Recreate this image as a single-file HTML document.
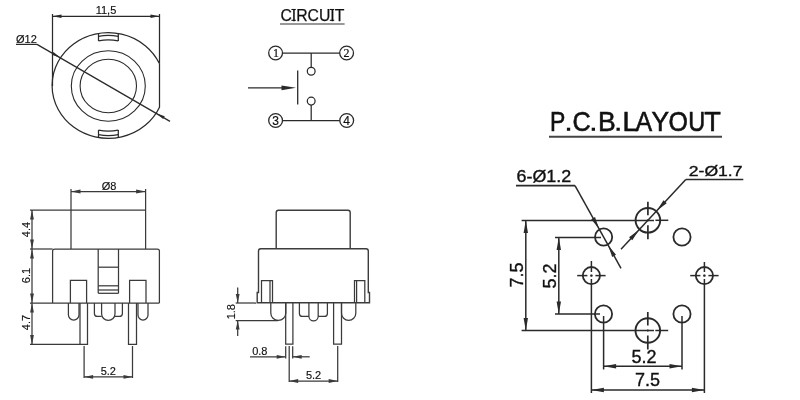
<!DOCTYPE html>
<html><head><meta charset="utf-8"><style>
html,body{margin:0;padding:0;background:#fff;width:800px;height:400px;overflow:hidden}
svg{display:block;will-change:transform}
</style></head><body>
<svg width="800" height="400" viewBox="0 0 800 400">
<rect width="800" height="400" fill="#fff"/>
<line x1="52.50" y1="14.00" x2="52.50" y2="86.00" stroke="#2a2a2a" stroke-width="1.25"/>
<line x1="52.50" y1="16.30" x2="159.50" y2="16.30" stroke="#2a2a2a" stroke-width="1.25"/>
<polygon points="52.50,16.30 61.50,14.50 61.50,18.10" fill="#2a2a2a" stroke="none" stroke-width="1.1"/>
<polygon points="159.50,16.30 150.50,18.10 150.50,14.50" fill="#2a2a2a" stroke="none" stroke-width="1.1"/>
<text x="106.00" y="14.20" font-size="11" text-anchor="middle" font-family="Liberation Sans, sans-serif" fill="#111" stroke="#111" stroke-width="0.15">11,5</text>
<path d="M159.5,14 V63.69 A56.2,52.9 0 1 0 159.5,107.31 Z" fill="none" stroke="#2a2a2a" stroke-width="1.25"/>
<ellipse cx="108.3" cy="86" rx="37" ry="35.3" fill="none" stroke="#2a2a2a" stroke-width="1.1"/>
<ellipse cx="108.3" cy="86" rx="28.2" ry="26.8" fill="none" stroke="#2a2a2a" stroke-width="1.1"/>
<line x1="98.50" y1="33.41" x2="98.50" y2="40.94" stroke="#2a2a2a" stroke-width="1.25"/>
<line x1="118.30" y1="33.44" x2="118.30" y2="40.98" stroke="#2a2a2a" stroke-width="1.25"/>
<path d="M98.5,36.36 A53.12,50.0 0 0 1 118.3,36.39" fill="none" stroke="#2a2a2a" stroke-width="1.25"/>
<path d="M98.5,40.94 A48.34,45.5 0 0 1 118.3,40.98" fill="none" stroke="#2a2a2a" stroke-width="1.25"/>
<line x1="98.50" y1="137.59" x2="98.50" y2="130.06" stroke="#2a2a2a" stroke-width="1.25"/>
<line x1="118.30" y1="137.56" x2="118.30" y2="130.02" stroke="#2a2a2a" stroke-width="1.25"/>
<path d="M98.5,134.64 A53.12,50.0 0 0 0 118.3,134.61" fill="none" stroke="#2a2a2a" stroke-width="1.25"/>
<path d="M98.5,130.06 A48.34,45.5 0 0 0 118.3,130.02" fill="none" stroke="#2a2a2a" stroke-width="1.25"/>
<text x="16.00" y="42.50" font-size="11" text-anchor="start" font-family="Liberation Sans, sans-serif" fill="#111" stroke="#111" stroke-width="0.15">Ø12</text>
<line x1="16.00" y1="44.40" x2="37.00" y2="44.40" stroke="#2a2a2a" stroke-width="1.25"/>
<line x1="37.00" y1="44.40" x2="170.00" y2="121.39" stroke="#2a2a2a" stroke-width="1.25"/>
<polygon points="60.43,57.79 51.84,54.66 53.44,51.89" fill="#2a2a2a" stroke="none" stroke-width="1.1"/>
<polygon points="156.17,113.21 164.76,116.34 163.16,119.11" fill="#2a2a2a" stroke="none" stroke-width="1.1"/>
<text x="312.40" y="21.00" font-size="16.5" text-anchor="middle" textLength="64" lengthAdjust="spacingAndGlyphs" font-family="Liberation Sans, sans-serif" fill="#111" stroke="#111" stroke-width="0.25">CIRCUIT</text>
<line x1="291.40" y1="9.50" x2="295.80" y2="9.50" stroke="#111" stroke-width="1.1"/>
<line x1="291.40" y1="20.30" x2="295.80" y2="20.30" stroke="#111" stroke-width="1.1"/>
<line x1="329.80" y1="9.50" x2="334.20" y2="9.50" stroke="#111" stroke-width="1.1"/>
<line x1="329.80" y1="20.30" x2="334.20" y2="20.30" stroke="#111" stroke-width="1.1"/>
<line x1="280.00" y1="24.00" x2="344.60" y2="24.00" stroke="#333" stroke-width="1.1"/>
<circle cx="275.60" cy="53.00" r="6.90" fill="none" stroke="#2a2a2a" stroke-width="1.3"/>
<text x="276.10" y="57.30" font-size="12" text-anchor="middle" font-family="Liberation Serif, sans-serif" fill="#111" stroke="#111" stroke-width="0.2">1</text>
<circle cx="346.60" cy="53.00" r="6.90" fill="none" stroke="#2a2a2a" stroke-width="1.3"/>
<text x="346.60" y="57.30" font-size="12" text-anchor="middle" font-family="Liberation Serif, sans-serif" fill="#111" stroke="#111" stroke-width="0.2">2</text>
<circle cx="275.60" cy="120.50" r="6.90" fill="none" stroke="#2a2a2a" stroke-width="1.3"/>
<text x="275.60" y="124.80" font-size="12" text-anchor="middle" font-family="Liberation Sans, sans-serif" fill="#111" stroke="#111" stroke-width="0.2">3</text>
<circle cx="346.70" cy="120.50" r="6.90" fill="none" stroke="#2a2a2a" stroke-width="1.3"/>
<text x="346.70" y="124.80" font-size="12" text-anchor="middle" font-family="Liberation Sans, sans-serif" fill="#111" stroke="#111" stroke-width="0.2">4</text>
<line x1="282.50" y1="53.00" x2="339.70" y2="53.00" stroke="#2a2a2a" stroke-width="1.25"/>
<line x1="282.50" y1="120.50" x2="339.80" y2="120.50" stroke="#2a2a2a" stroke-width="1.25"/>
<line x1="311.20" y1="53.00" x2="311.20" y2="67.40" stroke="#2a2a2a" stroke-width="1.25"/>
<circle cx="311.20" cy="71.30" r="3.90" fill="none" stroke="#2a2a2a" stroke-width="1.25"/>
<circle cx="311.20" cy="101.10" r="3.90" fill="none" stroke="#2a2a2a" stroke-width="1.25"/>
<line x1="311.20" y1="105.00" x2="311.20" y2="120.50" stroke="#2a2a2a" stroke-width="1.25"/>
<line x1="297.70" y1="70.50" x2="297.70" y2="104.50" stroke="#2a2a2a" stroke-width="1.3"/>
<line x1="248.00" y1="87.80" x2="284.00" y2="87.80" stroke="#2a2a2a" stroke-width="1.3"/>
<polygon points="296.00,87.80 281.50,85.40 281.50,90.20" fill="#2a2a2a" stroke="none" stroke-width="1.1"/>
<rect x="566.9" y="127.7" width="3.3" height="3.1" fill="#111"/>
<rect x="591.7" y="127.7" width="3.3" height="3.1" fill="#111"/>
<rect x="616.5" y="127.7" width="3.3" height="3.1" fill="#111"/>
<text transform="translate(557.6,130.75) scale(0.82,1)" x="0" y="0" font-size="28" text-anchor="middle" font-family="Liberation Sans, sans-serif" fill="#111" stroke="#111" stroke-width="0.6">P</text>
<text transform="translate(581.65,130.75) scale(0.9,1)" x="0" y="0" font-size="28" text-anchor="middle" font-family="Liberation Sans, sans-serif" fill="#111" stroke="#111" stroke-width="0.6">C</text>
<text transform="translate(606.9,130.75) scale(0.95,1)" x="0" y="0" font-size="28" text-anchor="middle" font-family="Liberation Sans, sans-serif" fill="#111" stroke="#111" stroke-width="0.6">B</text>
<text transform="translate(630.2,130.75) scale(0.98,1)" x="0" y="0" font-size="28" text-anchor="middle" font-family="Liberation Sans, sans-serif" fill="#111" stroke="#111" stroke-width="0.6">L</text>
<text transform="translate(643.9,130.75) scale(0.89,1)" x="0" y="0" font-size="28" text-anchor="middle" font-family="Liberation Sans, sans-serif" fill="#111" stroke="#111" stroke-width="0.6">A</text>
<text transform="translate(660.2,130.75) scale(0.94,1)" x="0" y="0" font-size="28" text-anchor="middle" font-family="Liberation Sans, sans-serif" fill="#111" stroke="#111" stroke-width="0.6">Y</text>
<text transform="translate(678.25,130.75) scale(0.89,1)" x="0" y="0" font-size="28" text-anchor="middle" font-family="Liberation Sans, sans-serif" fill="#111" stroke="#111" stroke-width="0.6">O</text>
<text transform="translate(696.7,130.75) scale(0.84,1)" x="0" y="0" font-size="28" text-anchor="middle" font-family="Liberation Sans, sans-serif" fill="#111" stroke="#111" stroke-width="0.6">U</text>
<text transform="translate(712.6,130.75) scale(0.97,1)" x="0" y="0" font-size="28" text-anchor="middle" font-family="Liberation Sans, sans-serif" fill="#111" stroke="#111" stroke-width="0.6">T</text>
<line x1="549.00" y1="136.80" x2="722.00" y2="136.80" stroke="#444" stroke-width="2.0"/>
<text x="516.50" y="182.00" font-size="16.5" text-anchor="start" textLength="54.7" lengthAdjust="spacingAndGlyphs" font-family="Liberation Sans, sans-serif" fill="#111" stroke="#111" stroke-width="0.35">6-Ø1.2</text>
<line x1="516.00" y1="185.60" x2="575.00" y2="185.60" stroke="#2a2a2a" stroke-width="1.7"/>
<text x="688.80" y="176.30" font-size="15" text-anchor="start" textLength="53.7" lengthAdjust="spacingAndGlyphs" font-family="Liberation Sans, sans-serif" fill="#111" stroke="#111" stroke-width="0.35">2-Ø1.7</text>
<line x1="685.80" y1="179.50" x2="743.30" y2="179.50" stroke="#2a2a2a" stroke-width="1.7"/>
<circle cx="647.90" cy="220.30" r="12.30" fill="none" stroke="#2a2a2a" stroke-width="1.9"/>
<circle cx="647.80" cy="330.50" r="12.30" fill="none" stroke="#2a2a2a" stroke-width="1.9"/>
<circle cx="603.60" cy="237.00" r="8.60" fill="none" stroke="#2a2a2a" stroke-width="1.8"/>
<circle cx="682.00" cy="237.00" r="8.60" fill="none" stroke="#2a2a2a" stroke-width="1.8"/>
<circle cx="591.40" cy="275.60" r="8.60" fill="none" stroke="#2a2a2a" stroke-width="1.8"/>
<circle cx="704.40" cy="275.60" r="8.60" fill="none" stroke="#2a2a2a" stroke-width="1.8"/>
<circle cx="603.50" cy="314.00" r="8.60" fill="none" stroke="#2a2a2a" stroke-width="1.8"/>
<circle cx="682.00" cy="314.00" r="8.60" fill="none" stroke="#2a2a2a" stroke-width="1.8"/>
<line x1="647.90" y1="201.80" x2="647.90" y2="215.30" stroke="#2a2a2a" stroke-width="1.7"/>
<line x1="647.90" y1="219.30" x2="647.90" y2="221.30" stroke="#2a2a2a" stroke-width="1.5"/>
<line x1="647.90" y1="225.30" x2="647.90" y2="239.30" stroke="#2a2a2a" stroke-width="1.7"/>
<line x1="655.40" y1="220.30" x2="668.30" y2="220.30" stroke="#2a2a2a" stroke-width="1.5"/>
<line x1="647.80" y1="312.00" x2="647.80" y2="325.50" stroke="#2a2a2a" stroke-width="1.7"/>
<line x1="647.80" y1="329.50" x2="647.80" y2="331.50" stroke="#2a2a2a" stroke-width="1.5"/>
<line x1="647.80" y1="335.50" x2="647.80" y2="349.50" stroke="#2a2a2a" stroke-width="1.7"/>
<line x1="655.30" y1="330.50" x2="668.20" y2="330.50" stroke="#2a2a2a" stroke-width="1.5"/>
<line x1="577.20" y1="275.60" x2="587.40" y2="275.60" stroke="#2a2a2a" stroke-width="1.5"/>
<line x1="590.20" y1="275.60" x2="592.60" y2="275.60" stroke="#2a2a2a" stroke-width="1.5"/>
<line x1="595.40" y1="275.60" x2="605.60" y2="275.60" stroke="#2a2a2a" stroke-width="1.5"/>
<line x1="690.20" y1="275.60" x2="700.40" y2="275.60" stroke="#2a2a2a" stroke-width="1.5"/>
<line x1="703.20" y1="275.60" x2="705.60" y2="275.60" stroke="#2a2a2a" stroke-width="1.5"/>
<line x1="708.40" y1="275.60" x2="718.60" y2="275.60" stroke="#2a2a2a" stroke-width="1.5"/>
<line x1="521.60" y1="220.40" x2="654.00" y2="220.40" stroke="#2a2a2a" stroke-width="1.5"/>
<line x1="521.60" y1="330.60" x2="654.00" y2="330.60" stroke="#2a2a2a" stroke-width="1.5"/>
<line x1="555.00" y1="237.40" x2="601.00" y2="237.40" stroke="#2a2a2a" stroke-width="1.5"/>
<line x1="555.00" y1="314.00" x2="600.00" y2="314.00" stroke="#2a2a2a" stroke-width="1.5"/>
<line x1="591.40" y1="261.00" x2="591.40" y2="272.00" stroke="#2a2a2a" stroke-width="1.5"/>
<line x1="591.40" y1="274.50" x2="591.40" y2="276.70" stroke="#2a2a2a" stroke-width="1.5"/>
<line x1="591.40" y1="279.00" x2="591.40" y2="393.00" stroke="#2a2a2a" stroke-width="1.5"/>
<line x1="704.40" y1="262.00" x2="704.40" y2="272.00" stroke="#2a2a2a" stroke-width="1.5"/>
<line x1="704.40" y1="274.50" x2="704.40" y2="276.70" stroke="#2a2a2a" stroke-width="1.5"/>
<line x1="704.40" y1="279.00" x2="704.40" y2="393.00" stroke="#2a2a2a" stroke-width="1.5"/>
<line x1="603.60" y1="316.00" x2="603.60" y2="369.50" stroke="#2a2a2a" stroke-width="1.5"/>
<line x1="682.00" y1="316.00" x2="682.00" y2="369.50" stroke="#2a2a2a" stroke-width="1.5"/>
<line x1="525.80" y1="220.40" x2="525.80" y2="330.60" stroke="#2a2a2a" stroke-width="1.5"/>
<polygon points="525.80,220.40 528.00,232.90 523.60,232.90" fill="#2a2a2a" stroke="none" stroke-width="1.1"/>
<polygon points="525.80,330.60 523.60,318.10 528.00,318.10" fill="#2a2a2a" stroke="none" stroke-width="1.1"/>
<line x1="558.80" y1="237.40" x2="558.80" y2="314.00" stroke="#2a2a2a" stroke-width="1.5"/>
<polygon points="558.80,237.40 561.00,249.90 556.60,249.90" fill="#2a2a2a" stroke="none" stroke-width="1.1"/>
<polygon points="558.80,314.00 556.60,301.50 561.00,301.50" fill="#2a2a2a" stroke="none" stroke-width="1.1"/>
<line x1="603.60" y1="366.30" x2="682.00" y2="366.30" stroke="#2a2a2a" stroke-width="1.5"/>
<polygon points="603.60,366.30 616.10,364.10 616.10,368.50" fill="#2a2a2a" stroke="none" stroke-width="1.1"/>
<polygon points="682.00,366.30 669.50,368.50 669.50,364.10" fill="#2a2a2a" stroke="none" stroke-width="1.1"/>
<line x1="591.40" y1="390.00" x2="704.40" y2="390.00" stroke="#2a2a2a" stroke-width="1.5"/>
<polygon points="591.40,390.00 603.90,387.80 603.90,392.20" fill="#2a2a2a" stroke="none" stroke-width="1.1"/>
<polygon points="704.40,390.00 691.90,392.20 691.90,387.80" fill="#2a2a2a" stroke="none" stroke-width="1.1"/>
<text x="522.80" y="275.00" font-size="18" text-anchor="middle" transform="rotate(-90 522.80 275.00)" font-family="Liberation Sans, sans-serif" fill="#111" stroke="#111" stroke-width="0.35">7.5</text>
<text x="556.00" y="276.00" font-size="18" text-anchor="middle" transform="rotate(-90 556.00 276.00)" font-family="Liberation Sans, sans-serif" fill="#111" stroke="#111" stroke-width="0.35">5.2</text>
<text x="644.00" y="363.00" font-size="18" text-anchor="middle" font-family="Liberation Sans, sans-serif" fill="#111" stroke="#111" stroke-width="0.35">5.2</text>
<text x="647.50" y="386.00" font-size="18" text-anchor="middle" font-family="Liberation Sans, sans-serif" fill="#111" stroke="#111" stroke-width="0.35">7.5</text>
<line x1="575.00" y1="185.60" x2="621.00" y2="268.27" stroke="#2a2a2a" stroke-width="1.5"/>
<polygon points="598.93,228.61 591.18,219.19 595.02,217.06" fill="#2a2a2a" stroke="none" stroke-width="1.1"/>
<polygon points="608.27,245.39 616.02,254.81 612.18,256.94" fill="#2a2a2a" stroke="none" stroke-width="1.1"/>
<line x1="685.80" y1="179.50" x2="621.00" y2="249.26" stroke="#2a2a2a" stroke-width="1.5"/>
<polygon points="656.95,210.56 663.51,200.27 666.73,203.26" fill="#2a2a2a" stroke="none" stroke-width="1.1"/>
<polygon points="638.85,230.04 632.29,240.33 629.07,237.34" fill="#2a2a2a" stroke="none" stroke-width="1.1"/>
<line x1="71.00" y1="189.00" x2="71.00" y2="249.00" stroke="#3a3a3a" stroke-width="1.25"/>
<line x1="145.60" y1="189.00" x2="145.60" y2="249.00" stroke="#3a3a3a" stroke-width="1.25"/>
<line x1="71.00" y1="191.50" x2="145.60" y2="191.50" stroke="#3a3a3a" stroke-width="1.25"/>
<polygon points="71.00,191.50 80.50,189.60 80.50,193.40" fill="#3a3a3a" stroke="none" stroke-width="1.1"/>
<polygon points="145.60,191.50 136.10,193.40 136.10,189.60" fill="#3a3a3a" stroke="none" stroke-width="1.1"/>
<text x="109.00" y="189.70" font-size="11" text-anchor="middle" font-family="Liberation Sans, sans-serif" fill="#111" stroke="#111" stroke-width="0.15">Ø8</text>
<line x1="30.00" y1="210.00" x2="145.60" y2="210.00" stroke="#3a3a3a" stroke-width="1.25"/>
<line x1="30.00" y1="249.00" x2="52.60" y2="249.00" stroke="#3a3a3a" stroke-width="1.25"/>
<path d="M52.6,303 V251 Q52.6,249 54.6,249 H157.4 Q159.4,249 159.4,251 V303" fill="none" stroke="#3a3a3a" stroke-width="1.25"/>
<line x1="30.00" y1="303.00" x2="159.40" y2="303.00" stroke="#3a3a3a" stroke-width="1.25"/>
<line x1="32.00" y1="210.00" x2="32.00" y2="249.00" stroke="#3a3a3a" stroke-width="1.25"/>
<polygon points="32.00,210.00 33.90,219.50 30.10,219.50" fill="#3a3a3a" stroke="none" stroke-width="1.1"/>
<polygon points="32.00,249.00 30.10,239.50 33.90,239.50" fill="#3a3a3a" stroke="none" stroke-width="1.1"/>
<line x1="32.00" y1="249.00" x2="32.00" y2="303.00" stroke="#3a3a3a" stroke-width="1.25"/>
<polygon points="32.00,249.00 33.90,258.50 30.10,258.50" fill="#3a3a3a" stroke="none" stroke-width="1.1"/>
<polygon points="32.00,303.00 30.10,293.50 33.90,293.50" fill="#3a3a3a" stroke="none" stroke-width="1.1"/>
<line x1="32.00" y1="303.00" x2="32.00" y2="344.40" stroke="#3a3a3a" stroke-width="1.25"/>
<polygon points="32.00,303.00 33.90,312.50 30.10,312.50" fill="#3a3a3a" stroke="none" stroke-width="1.1"/>
<polygon points="32.00,344.40 30.10,334.90 33.90,334.90" fill="#3a3a3a" stroke="none" stroke-width="1.1"/>
<text x="30.00" y="229.50" font-size="11" text-anchor="middle" transform="rotate(-90 30.00 229.50)" font-family="Liberation Sans, sans-serif" fill="#111" stroke="#111" stroke-width="0.15">4.4</text>
<text x="30.00" y="275.50" font-size="11" text-anchor="middle" transform="rotate(-90 30.00 275.50)" font-family="Liberation Sans, sans-serif" fill="#111" stroke="#111" stroke-width="0.15">6.1</text>
<text x="30.00" y="322.50" font-size="11" text-anchor="middle" transform="rotate(-90 30.00 322.50)" font-family="Liberation Sans, sans-serif" fill="#111" stroke="#111" stroke-width="0.15">4.7</text>
<line x1="98.20" y1="249.00" x2="98.20" y2="293.30" stroke="#3a3a3a" stroke-width="1.25"/>
<line x1="118.50" y1="249.00" x2="118.50" y2="293.30" stroke="#3a3a3a" stroke-width="1.25"/>
<line x1="98.20" y1="267.20" x2="118.50" y2="267.20" stroke="#3a3a3a" stroke-width="1.25"/>
<line x1="98.20" y1="285.80" x2="118.50" y2="285.80" stroke="#3a3a3a" stroke-width="1.25"/>
<line x1="98.20" y1="290.00" x2="118.50" y2="290.00" stroke="#3a3a3a" stroke-width="1.25"/>
<line x1="98.20" y1="293.30" x2="118.50" y2="293.30" stroke="#3a3a3a" stroke-width="1.25"/>
<path d="M70.4,303 V280.4 H86.6 V303" fill="none" stroke="#3a3a3a" stroke-width="1.25"/>
<path d="M129.6,303 V280.4 H146 V303" fill="none" stroke="#3a3a3a" stroke-width="1.25"/>
<path d="M68.4,303 V314.70 A5.30,5.30 0 0 0 79,314.70 V303" fill="none" stroke="#3a3a3a" stroke-width="1.25"/>
<path d="M138,303 V315.00 A5.00,5.00 0 0 0 148,315.00 V303" fill="none" stroke="#3a3a3a" stroke-width="1.25"/>
<path d="M80,303 V344.4 H87.5 V303" fill="none" stroke="#3a3a3a" stroke-width="1.25"/>
<path d="M128.5,303 V344.4 H136.5 V303" fill="none" stroke="#3a3a3a" stroke-width="1.25"/>
<path d="M94.4,303 V313.4 Q94.4,316.4 97.4,316.4 H101.6" fill="none" stroke="#3a3a3a" stroke-width="1.25"/>
<path d="M101.6,303 V313.70 A6.70,6.70 0 0 0 115,313.70 V303" fill="none" stroke="#3a3a3a" stroke-width="1.25"/>
<path d="M115,316.4 H119.4 Q122.4,316.4 122.4,313.4 V303" fill="none" stroke="#3a3a3a" stroke-width="1.25"/>
<line x1="30.00" y1="344.40" x2="80.00" y2="344.40" stroke="#3a3a3a" stroke-width="1.25"/>
<line x1="84.10" y1="346.00" x2="84.10" y2="378.00" stroke="#3a3a3a" stroke-width="1.25"/>
<line x1="132.50" y1="346.00" x2="132.50" y2="378.00" stroke="#3a3a3a" stroke-width="1.25"/>
<line x1="84.10" y1="376.90" x2="132.50" y2="376.90" stroke="#3a3a3a" stroke-width="1.25"/>
<polygon points="84.10,376.90 93.10,375.00 93.10,378.80" fill="#3a3a3a" stroke="none" stroke-width="1.1"/>
<polygon points="132.50,376.90 123.50,378.80 123.50,375.00" fill="#3a3a3a" stroke="none" stroke-width="1.1"/>
<text x="108.30" y="374.80" font-size="11" text-anchor="middle" font-family="Liberation Sans, sans-serif" fill="#111" stroke="#111" stroke-width="0.15">5.2</text>
<path d="M276.2,248.7 V212.5 Q276.2,210.2 278.5,210.2 H348 Q350.2,210.2 350.2,212.5 V248.7" fill="none" stroke="#3c3c3c" stroke-width="1.4"/>
<path d="M258.5,292.5 V251 Q258.5,248.7 260.8,248.7 H366 Q368.3,248.7 368.3,251 V292.5 H369.5 V302.8 H257.2 V292.5 Z" fill="none" stroke="#3c3c3c" stroke-width="1.4"/>
<path d="M261.5,302.8 V280.5 H272.5 V302.8" fill="none" stroke="#3a3a3a" stroke-width="1.25"/>
<line x1="270.00" y1="280.50" x2="270.00" y2="302.80" stroke="#3a3a3a" stroke-width="1.25"/>
<path d="M354.5,302.8 V280.5 H364.8 V302.8" fill="none" stroke="#3a3a3a" stroke-width="1.25"/>
<line x1="356.60" y1="280.50" x2="356.60" y2="302.80" stroke="#3a3a3a" stroke-width="1.25"/>
<path d="M270.8,302.8 V312.90 A7.50,7.50 0 0 0 285.8,312.90 V302.8" fill="none" stroke="#3a3a3a" stroke-width="1.25"/>
<path d="M341.5,302.8 V313.25 A7.15,7.15 0 0 0 355.8,313.25 V302.8" fill="none" stroke="#3a3a3a" stroke-width="1.25"/>
<path d="M285.7,302.8 V344.2 H292.9 V302.8" fill="none" stroke="#3a3a3a" stroke-width="1.25"/>
<path d="M333.6,302.8 V344.2 H341.5 V302.8" fill="none" stroke="#3a3a3a" stroke-width="1.25"/>
<path d="M299.4,302.8 V313.4 Q299.4,316.4 302.4,316.4 H308.9" fill="none" stroke="#3a3a3a" stroke-width="1.25"/>
<path d="M308.9,302.8 V316.15 A4.65,4.65 0 0 0 318.2,316.15 V302.8" fill="none" stroke="#3a3a3a" stroke-width="1.25"/>
<path d="M318.2,316.4 H324.4 Q327.4,316.4 327.4,313.4 V302.8" fill="none" stroke="#3a3a3a" stroke-width="1.25"/>
<line x1="235.70" y1="303.00" x2="256.00" y2="303.00" stroke="#3a3a3a" stroke-width="1.25"/>
<line x1="235.70" y1="320.50" x2="278.00" y2="320.50" stroke="#3a3a3a" stroke-width="1.25"/>
<line x1="237.70" y1="287.50" x2="237.70" y2="303.00" stroke="#3a3a3a" stroke-width="1.25"/>
<polygon points="237.70,303.00 235.80,294.00 239.60,294.00" fill="#3a3a3a" stroke="none" stroke-width="1.1"/>
<line x1="237.70" y1="320.50" x2="237.70" y2="336.00" stroke="#3a3a3a" stroke-width="1.25"/>
<polygon points="237.70,320.50 239.60,329.50 235.80,329.50" fill="#3a3a3a" stroke="none" stroke-width="1.1"/>
<text x="235.50" y="311.70" font-size="11" text-anchor="middle" transform="rotate(-90 235.50 311.70)" font-family="Liberation Sans, sans-serif" fill="#111" stroke="#111" stroke-width="0.15">1.8</text>
<line x1="285.70" y1="346.30" x2="285.70" y2="358.50" stroke="#3a3a3a" stroke-width="1.25"/>
<line x1="292.70" y1="346.30" x2="292.70" y2="358.50" stroke="#3a3a3a" stroke-width="1.25"/>
<line x1="250.00" y1="356.80" x2="285.70" y2="356.80" stroke="#3a3a3a" stroke-width="1.25"/>
<polygon points="285.70,356.80 276.70,358.70 276.70,354.90" fill="#3a3a3a" stroke="none" stroke-width="1.1"/>
<line x1="292.70" y1="356.80" x2="309.70" y2="356.80" stroke="#3a3a3a" stroke-width="1.25"/>
<polygon points="292.70,356.80 301.70,354.90 301.70,358.70" fill="#3a3a3a" stroke="none" stroke-width="1.1"/>
<text x="259.80" y="354.70" font-size="11" text-anchor="middle" font-family="Liberation Sans, sans-serif" fill="#111" stroke="#111" stroke-width="0.15">0.8</text>
<line x1="289.20" y1="346.00" x2="289.20" y2="382.00" stroke="#3a3a3a" stroke-width="1.25"/>
<line x1="337.70" y1="346.00" x2="337.70" y2="382.00" stroke="#3a3a3a" stroke-width="1.25"/>
<line x1="289.20" y1="381.00" x2="337.70" y2="381.00" stroke="#3a3a3a" stroke-width="1.25"/>
<polygon points="289.20,381.00 298.20,379.10 298.20,382.90" fill="#3a3a3a" stroke="none" stroke-width="1.1"/>
<polygon points="337.70,381.00 328.70,382.90 328.70,379.10" fill="#3a3a3a" stroke="none" stroke-width="1.1"/>
<text x="313.60" y="378.70" font-size="11" text-anchor="middle" font-family="Liberation Sans, sans-serif" fill="#111" stroke="#111" stroke-width="0.15">5.2</text>
</svg>
</body></html>
